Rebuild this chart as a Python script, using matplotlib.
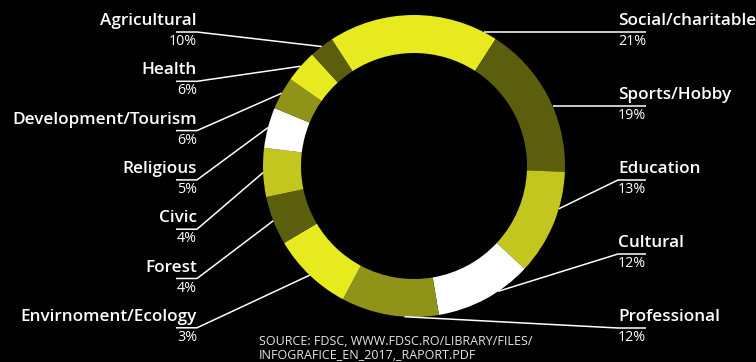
import numpy as np
import matplotlib
matplotlib.use("Agg")
import matplotlib.pyplot as plt

# label text as printed in the infographic
right_labels = ['Social/charitable', 'Sports/Hobby', 'Education', 'Cultural', 'Professional']
right_pct = ['21%', '19%', '13%', '12%', '12%']
left_labels = ['Agricultural', 'Health', 'Development/Tourism', 'Religious',
               'Civic', 'Forest', 'Envirnoment/Ecology']
left_pct = ['10%', '6%', '6%', '5%', '4%', '4%', '3%']

# ring segment sizes, clockwise from Social/charitable
sizes = [21, 19, 13, 12, 12, 10, 6, 6, 5, 4, 4, 3]
# which label each segment belongs to (same clockwise order)
seg_labels = right_labels + left_labels[::-1]

palette = ['#E6EA1F', '#5B5E0D', '#C3C61F', '#FFFFFF', '#8F9318']
colors = [palette[i % 5] for i in range(len(sizes))]

source = 'SOURCE: FDSC, WWW.FDSC.RO/LIBRARY/FILES/\nINFOGRAFICE_EN_2017,_RAPORT.PDF'

W, H = 756, 362
fig = plt.figure(figsize=(W / 100, H / 100), dpi=100, facecolor='black')
ax = fig.add_axes([0, 0, 1, 1])
ax.set_facecolor('black')

cx, cy, R, ring = 414, H - 166, 151, 38
start = 123
ax.pie(sizes, colors=colors, center=(cx, cy), radius=R, startangle=start,
       counterclock=False, wedgeprops=dict(width=ring, linewidth=0))
ax.set_xlim(0, W)
ax.set_ylim(0, H)
ax.set_aspect('auto')
ax.axis('off')

# wedge angles (matplotlib convention, degrees)
tot = sum(sizes)
edges = start - np.cumsum([0] + sizes) * 360.0 / tot
wedges = {lab: (edges[i], edges[i + 1]) for i, lab in enumerate(seg_labels)}

font = 'Open Sans'
lc = 'white'


def anchor(lab, ly):
    a0, a1 = wedges[lab]
    dy = ly - cy
    if lab in right_labels:
        if 0 < dy < R:
            ang = np.degrees(np.arcsin(dy / R))
            if a1 <= ang <= a0:
                return cx + R * np.cos(np.radians(ang)), ly
        a = np.radians(a0 + 0.35 * (a1 - a0))
    else:
        a = np.radians((a0 + a1) / 2)
    return cx + R * np.cos(a), cy + R * np.sin(a)


fs_lab, fs_pct = 12.3, 10.3

# right side labels
for i, (lab, pct) in enumerate(zip(right_labels, right_pct)):
    ly = H - (32 + 74 * i)
    x0, y0 = anchor(lab, ly)
    ax.plot([x0, 618, 646], [y0, ly, ly], color=lc, lw=1.1, solid_capstyle='butt')
    ax.text(618, ly + 3, lab, color='white', fontsize=fs_lab, fontweight='semibold',
            family=font, ha='left', va='bottom')
    ax.text(618, ly - 2, pct, color='white', fontsize=fs_pct, family=font,
            ha='left', va='top')

# left side labels
for i, (lab, pct) in enumerate(zip(left_labels, left_pct)):
    ly = H - (32 + 49.3 * i)
    x0, y0 = anchor(lab, ly)
    ax.plot([176, 197, x0], [ly, ly, y0], color=lc, lw=1.1, solid_capstyle='butt')
    ax.text(197, ly + 3, lab, color='white', fontsize=fs_lab, fontweight='semibold',
            family=font, ha='right', va='bottom')
    ax.text(197, ly - 2, pct, color='white', fontsize=fs_pct, family=font,
            ha='right', va='top')

ax.text(259, H - 335, source, color='#E6E6E6', fontsize=9.0, family=font,
        ha='left', va='top', linespacing=1.08)

fig.savefig('out.png', dpi=100, facecolor='black')
